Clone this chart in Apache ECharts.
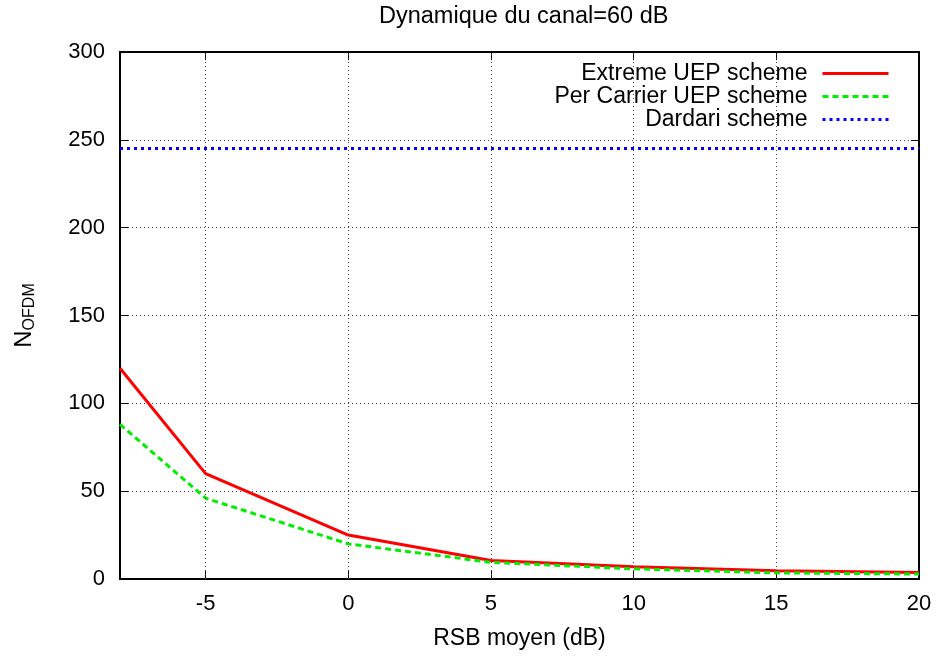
<!DOCTYPE html>
<html>
<head>
<meta charset="utf-8">
<script src="https://cdn.jsdelivr.net/npm/echarts@6/dist/echarts.min.js"></script>
<style>
  html, body { margin: 0; padding: 0; background: #fff; }
  #chart { width: 939px; height: 658px; }
</style>
</head>
<body>
<div id="chart"></div>
<script>
// RSB moyen (dB)
const snr = [-8, -5, 0, 5, 10, 15, 20];
const extremeUep = [120, 60, 25, 10.5, 7, 4.7, 3.7];
const perCarrierUep = [88, 46, 20, 9.5, 5.8, 3.5, 2.8];
const dardari = [245, 245, 245, 245, 245, 245, 245];
const xTicks = [-5, 0, 5, 10, 15, 20];
const xGrid = [-5, 0, 5, 10, 15];

const font = "Liberation Sans, Arial, sans-serif";

const pairs = (ys) => snr.map((x, i) => [x, ys[i]]);

const chart = echarts.init(document.getElementById("chart"), null, { renderer: "canvas" });

const axisLineStyle = { show: true, onZero: false, lineStyle: { color: "#000", width: 2 } };
const tickStyle = { show: true, inside: true, length: 8, lineStyle: { color: "#000", width: 1 } };

chart.setOption({
  animation: false,
  title: {
    text: "Dynamique du canal=60 dB",
    left: 374,
    top: 0,
    textStyle: { fontFamily: font, fontSize: 23.5, fontWeight: "normal", color: "#000" },
  },
  grid: { left: 120, right: 20, top: 52, bottom: 79 },
  legend: {
    right: 44,
    top: 57,
    orient: "vertical",
    align: "right",
    itemWidth: 66,
    itemHeight: 12,
    itemGap: 0,
    itemStyle: { opacity: 0 },
    lineStyle: { width: 3 },
    textStyle: { fontFamily: font, fontSize: 23, color: "#000", padding: [0, 10, 0, 0] },
    data: ["Extreme UEP scheme", "Per Carrier UEP scheme", "Dardari scheme"],
  },
  xAxis: [
    {
      type: "value",
      min: -8,
      max: 20,
      name: "RSB moyen (dB)",
      nameLocation: "middle",
      nameGap: 48,
      nameTextStyle: { fontFamily: font, fontSize: 23, color: "#000" },
      axisLine: axisLineStyle,
      axisTick: Object.assign({ customValues: xTicks }, tickStyle),
      axisLabel: { customValues: xTicks, fontFamily: font, fontSize: 22, color: "#000", margin: 14 },
      splitLine: { show: false },
    },
    {
      type: "value",
      position: "top",
      min: -8,
      max: 20,
      axisLine: axisLineStyle,
      axisTick: Object.assign({ customValues: xTicks }, tickStyle),
      axisLabel: { show: false },
      splitLine: { show: false },
    },
  ],
  yAxis: [
    {
      type: "value",
      min: 0,
      max: 300,
      interval: 50,
      name: "{n|N}{s|OFDM}",
      nameLocation: "middle",
      nameRotate: 90,
      nameGap: 82,
      nameTextStyle: {
        rich: {
          n: { fontFamily: font, fontSize: 24, color: "#000" },
          s: { fontFamily: font, fontSize: 16, color: "#000", padding: [12, 0, 0, 0] },
        },
      },
      axisLine: axisLineStyle,
      axisTick: tickStyle,
      axisLabel: { fontFamily: font, fontSize: 22, color: "#000", margin: 15 },
      splitLine: { show: true, lineStyle: { color: "#444", type: [1, 3], width: 1 } },
    },
    {
      type: "value",
      position: "right",
      min: 0,
      max: 300,
      interval: 50,
      axisLine: axisLineStyle,
      axisTick: tickStyle,
      axisLabel: { show: false },
      splitLine: { show: false },
    },
  ],
  series: [
    {
      name: "grid",
      type: "line",
      data: [],
      silent: true,
      markLine: {
        silent: true,
        symbol: "none",
        label: { show: false },
        lineStyle: { color: "#444", type: [1, 3], width: 1 },
        data: xGrid.map((v) => ({ xAxis: v })),
      },
    },
    {
      name: "Extreme UEP scheme",
      type: "line",
      data: pairs(extremeUep),
      symbol: "none",
      z: 3,
      lineStyle: { color: "#ff0000", width: 3 },
      itemStyle: { color: "#ff0000" },
    },
    {
      name: "Per Carrier UEP scheme",
      type: "line",
      data: pairs(perCarrierUep),
      symbol: "none",
      z: 4,
      lineStyle: { color: "#00ee00", width: 3, type: [6, 4] },
      itemStyle: { color: "#00ee00" },
    },
    {
      name: "Dardari scheme",
      type: "line",
      data: pairs(dardari),
      symbol: "none",
      z: 3,
      lineStyle: { color: "#0000ff", width: 3, type: [3, 4] },
      itemStyle: { color: "#0000ff" },
    },
  ],
});
</script>
</body>
</html>
